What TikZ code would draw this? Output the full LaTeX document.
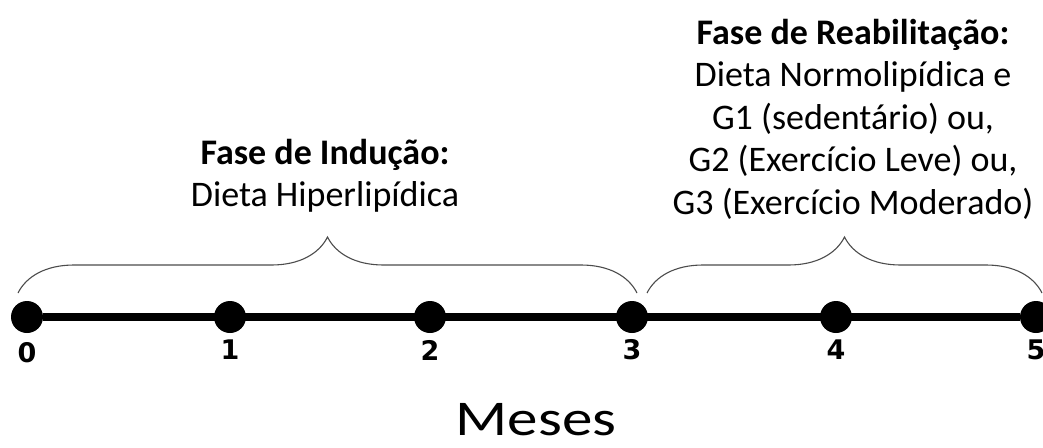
\documentclass[tikz,border=0pt]{standalone}
\usepackage{fontspec}
\setmainfont{Carlito}
\newfontfamily\digitfont{DejaVu Sans}
\usepackage{tikz}
\usetikzlibrary{calc}
\usetikzlibrary{decorations.pathreplacing}
\tikzset{
   month/.style={circle, fill=black, inner sep=0pt, minimum size=32pt},
   monthlabel/.style={font=\digitfont\bfseries\fontsize{27}{27}\selectfont, inner sep=0pt},
   phase/.style={align=center, inner sep=0pt, font=\fontsize{36}{42.5}\selectfont},
   phasebrace/.style={decorate, decoration={brace, amplitude=56pt}, draw=black!70, line width=1.1pt},
    }
\begin{document}
\begin{tikzpicture}[x=1pt, y=-1pt]
        \useasboundingbox (0,0) rectangle (1043,447);
        % months on the time line
        \foreach \m/\x/\ly in {0/27/353, 1/230/350, 2/430/350, 3/632/350, 4/836/350, 5/1036/350}{
            \node[month] (t\m) at (\x,317) {};
            \node[monthlabel] (l\m) at (\x,\ly) {\m};
        }
        \draw[line width=8pt] (t0) -- (t5);
        % braces
        \coordinate (b1) at (18,293);
        \coordinate (b2) at (637,293);
        \coordinate (b3) at (647,293);
        \coordinate (b4) at (1042,293);
        \draw[phasebrace] (b1) -- (b2);
        \draw[phasebrace] (b3) -- (b4);
        % phases
        \node[phase] (induction) at (325,176)
            {\textbf{Fase de Indução:}\\Dieta Hiperlipídica};
        \node[phase] (rehab) at (853,119)
            {\textbf{Fase de Reabilitação:}\\Dieta Normolipídica e\\G1 (sedentário) ou,\\G2 (Exercício Leve) ou,\\G3 (Exercício Moderado)};
        \node[font=\fontsize{50}{50}\selectfont, inner sep=0pt, xscale=1.22, anchor=base] (meses) at (536,435) {Meses};
    \end{tikzpicture}
\end{document}
